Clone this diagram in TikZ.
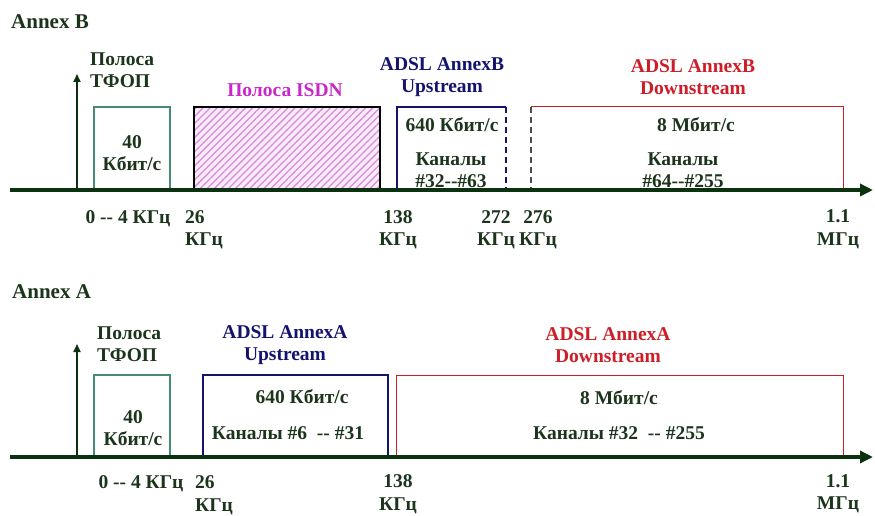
\documentclass[tikz,border=0pt]{standalone}
\usepackage{fontspec}
\setmainfont{Liberation Serif}
\usetikzlibrary{arrows.meta,patterns.meta}
\definecolor{axisgreen}{RGB}{10,50,14}
\definecolor{txtgreen}{RGB}{28,52,28}
\definecolor{tfopline}{RGB}{70,140,110}
\definecolor{upnavy}{RGB}{20,20,110}
\definecolor{downred}{RGB}{205,30,40}
\definecolor{isdnpink}{RGB}{200,40,200}
\definecolor{hatchpink}{RGB}{215,140,215}
\definecolor{isdnbg}{RGB}{250,235,250}

\begin{document}
\begin{tikzpicture}[
    x=1pt, y=-1pt,
    lbl/.style={inner sep=0pt, align=center, text=txtgreen, font=\fontsize{19.5}{22.5}\selectfont\bfseries},
    leftlbl/.style={lbl, align=left, anchor=west},
    annex/.style={leftlbl, font=\fontsize{21}{24}\selectfont\bfseries},
    upttl/.style={lbl, text=upnavy},
    downttl/.style={lbl, text=downred},
    axis/.style={-{Triangle[length=13pt,width=12pt]}, line width=3.8pt, draw=axisgreen},
    vaxis/.style={-{Triangle[length=8pt,width=7pt]}, line width=1.8pt, draw=axisgreen},
    tfop/.style={draw=tfopline, line width=1.3pt},
    upband/.style={draw=upnavy, line width=1.3pt},
    downband/.style={draw=downred, line width=1pt},
    cut/.style={dash pattern=on 6pt off 4pt}
]
\useasboundingbox (0,0) rectangle (875,516);

% Annex B
\node[annex] (annexB) at (11,22) {Annex B};
\coordinate (startB) at (10,190);
\coordinate (endB) at (873,190);
\coordinate (oB) at (77,190);
\coordinate (topB) at (77,74);
\draw[tfop] (94,190) |- (170,107) -- (170,190);
\fill[isdnbg] (194,107) rectangle (380,190);
\fill[pattern={Lines[angle=45,distance=5pt,line width=1.3pt]}, pattern color=hatchpink] (194,107) rectangle (380,190);
\draw[line width=1.2pt] (194,190) |- (380,107) -- (380,190);
\draw[upband] (397,190) |- (506,107);
\draw[upband, cut] (506,107) -- (506,190);
\draw[black!70, line width=1.3pt, cut] (531,107) -- (531,190);
\draw[downband] (531,107) -| (843,190);
\node[leftlbl] (tfopB) at (90,70) {Полоса\\ТФОП};
\node[lbl] (rateB) at (132,153) {40\\Кбит/с};
\node[lbl, text=isdnpink] (isdnB) at (285,90) {Полоса ISDN};
\node[upttl] (upB) at (442,77) {ADSL AnnexB\\Upstream};
\node[lbl] (upRateB) at (452,125) {640 Кбит/с};
\node[lbl] (upChB) at (451,170) {Каналы\\\#32-{}-\#63};
\node[downttl] (downB) at (693,77) {ADSL AnnexB\\Downstream};
\node[lbl] (downRateB) at (696,125) {8 Мбит/с};
\node[lbl] (downChB) at (683,170) {Каналы\\\#64-{}-\#255};
\node[lbl] (f0B) at (128,219) {0 -{}- 4 КГц};
\node[leftlbl] (f26B) at (185,229.5) {26\\КГц};
\node[lbl] (f138B) at (398,229.5) {138\\КГц};
\node[lbl] (f272B) at (496,229.5) {272\\КГц};
\node[lbl] (f276B) at (538,229.5) {276\\КГц};
\node[lbl] (f11B) at (838,229.5) {1.1\\МГц};
\draw[vaxis] (oB) -- (topB);
\draw[axis] (startB) -- (endB);

% Annex A
\node[annex] (annexA) at (12,292) {Annex A};
\coordinate (startA) at (10,457);
\coordinate (endA) at (873,457);
\coordinate (oA) at (77,457);
\coordinate (topA) at (77,344);
\draw[tfop] (94,457) |- (170,375) -- (170,457);
\draw[upband] (203,457) |- (388,375) -- (388,457);
\draw[downband] (396,457) |- (843,375) -- (843,457);
\node[leftlbl] (tfopA) at (97,344) {Полоса\\ТФОП};
\node[lbl] (rateA) at (133,428) {40\\Кбит/с};
\node[upttl] (upA) at (285,345) {ADSL AnnexA\\Upstream};
\node[lbl] (upRateA) at (302,397) {640 Кбит/с};
\node[lbl] (upChA) at (288,433) {Каналы \#6 \ -{}- \#31};
\node[downttl] (downA) at (608,345) {ADSL AnnexA\\Downstream};
\node[lbl] (downRateA) at (619,398) {8 Мбит/с};
\node[lbl] (downChA) at (619,433) {Каналы \#32 \ -{}- \#255};
\node[lbl] (f0A) at (141,484) {0 -{}- 4 КГц};
\node[leftlbl] (f26A) at (195,495) {26\\КГц};
\node[lbl] (f138A) at (398,494) {138\\КГц};
\node[lbl] (f11A) at (838,494) {1.1\\МГц};
\draw[vaxis] (oA) -- (topA);
\draw[axis] (startA) -- (endA);
\end{tikzpicture}
\end{document}
